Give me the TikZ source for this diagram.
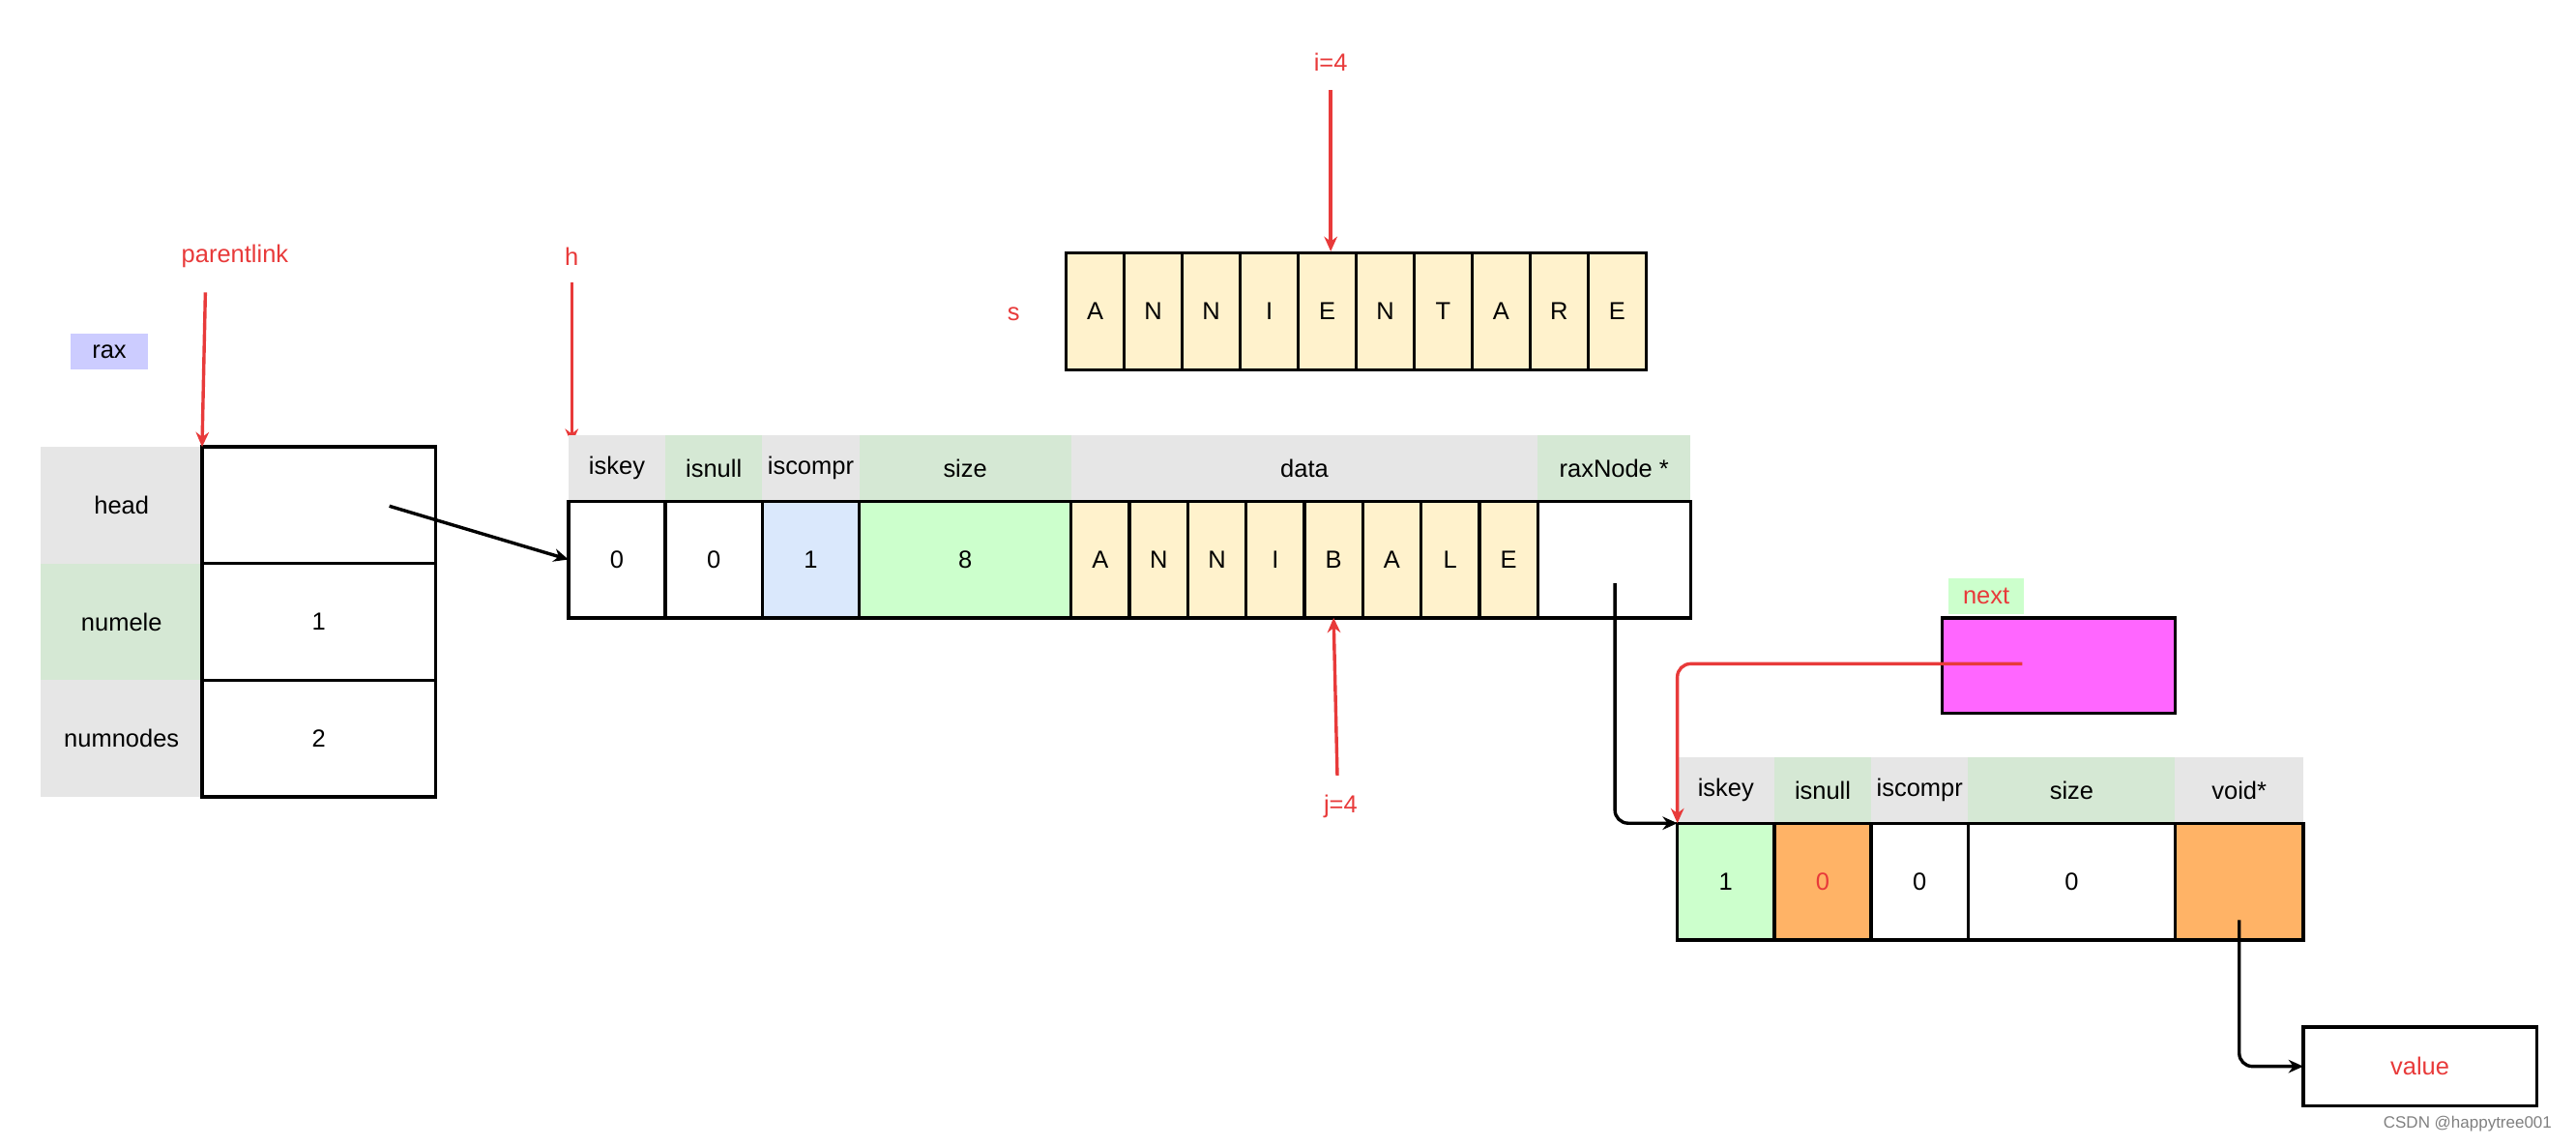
\documentclass[tikz,border=0pt]{standalone}
\usepackage{fontspec}
\setmainfont{Liberation Sans}
\usetikzlibrary{arrows.meta}
\definecolor{rd}{HTML}{E83A3A}
\definecolor{gy}{HTML}{E6E6E6}
\definecolor{gn}{HTML}{D5E8D4}
\definecolor{lg}{HTML}{CCFFCC}
\definecolor{bl}{HTML}{DAE8FC}
\definecolor{yl}{HTML}{FFF2CC}
\definecolor{og}{HTML}{FFB366}
\definecolor{mg}{HTML}{FF66FF}
\definecolor{lv}{HTML}{CCCCFF}
\begin{document}
\begin{tikzpicture}[x=1pt,y=-1pt,
  every node/.style={font=\fontsize{15}{18}\selectfont, inner sep=0pt, outer sep=0pt},
  cell/.style={draw=black, line width=2pt, minimum height=71pt},
  hdr/.style={minimum height=40pt},
  lbl/.style={text=rd},
  rarr/.style={draw=rd, line width=2pt, -{Stealth[length=9pt,width=8pt]}},
  barr/.style={draw=black, line width=2pt, -{Stealth[length=9pt,width=8pt]}, rounded corners=8pt}]
\useasboundingbox (0,0) rectangle (1568,697);
% rax
\node[fill=lv, minimum width=47pt, minimum height=22pt] (rax) at (66.5,214) {rax};
% left struct
\node[fill=gy, minimum width=98pt, minimum height=71pt] (lh) at (74,307.5) {head};
\node[fill=gn, minimum width=98pt, minimum height=71pt] (ln) at (74,378.5) {numele};
\node[fill=gy, minimum width=98pt, minimum height=71pt] (lnn) at (74,449.5) {numnodes};
\node[cell, minimum width=142pt] (vh) at (194,307.5) {};
\node[cell, minimum width=142pt] (vn) at (194,378.5) {1};
\node[cell, minimum width=142pt] (vnn) at (194,449.5) {2};
\coordinate (hs) at (237,308);
% labels
\node[lbl] (pl) at (143,156) {parentlink};
\node[lbl] (hl) at (348,156) {h};
\draw[rarr] (125,178) -- (vh.north west);
\draw[rarr] (348,172) -- (348,270);
% header row 1
\node[hdr, fill=gy, minimum width=59pt] (h1) at (375.5,285) {iskey};
\node[hdr, fill=gn, minimum width=59pt] (h2) at (434.5,285) {isnull};
\node[hdr, fill=gy, minimum width=59pt] (h3) at (493.5,285) {iscompr};
\node[hdr, fill=gn, minimum width=129pt] (h4) at (587.5,285) {size};
\node[hdr, fill=gy, minimum width=284pt] (h5) at (794,285) {data};
\node[hdr, fill=gn, minimum width=93pt] (h6) at (982.5,285) {raxNode *};
% data row
\node[cell, minimum width=59pt] (d1) at (375.5,340.5) {0};
\node[cell, minimum width=59pt] (d2) at (434.5,340.5) {0};
\node[cell, fill=bl, minimum width=59pt] (d3) at (493.5,340.5) {1};
\node[cell, fill=lg, minimum width=129pt] (d4) at (587.5,340.5) {8};
\foreach \c [count=\i] in {A,N,N,I,B,A,L,E}
  \node[cell, fill=yl, minimum width=35.5pt] (dd\i) at ({652+35.5*(\i-0.5)},340.5) {\c};
\node[cell, minimum width=93pt] (d6) at (982.5,340.5) {};
\draw[barr] (hs) -- (d1.west);
% j=4
\node[lbl] (jl) at (816,491) {j=4};
\draw[rarr] (814,472) -- (dd5.south);
% s array
\node[lbl] (sl) at (617,191) {s};
\foreach \c [count=\i] in {A,N,N,I,E,N,T,A,R,E}
  \node[cell, fill=yl, minimum width=35.3pt] (s\i) at ({649+35.3*(\i-0.5)},189.5) {\c};
\node[lbl] (il) at (810,38) {i=4};
\draw[rarr] (810,55) -- (810,153);
% next
\node[fill=lg, minimum width=46pt, minimum height=22pt, text=rd] (nl) at (1209,363) {next};
\node[draw=black, line width=2pt, fill=mg, minimum width=142pt, minimum height=58pt] (nb) at (1253,405) {};
% second struct
\node[hdr, fill=gy, minimum width=59pt] (k1) at (1050.5,481) {iskey};
\node[hdr, fill=gn, minimum width=59pt] (k2) at (1109.5,481) {isnull};
\node[hdr, fill=gy, minimum width=59pt] (k3) at (1168.5,481) {iscompr};
\node[hdr, fill=gn, minimum width=126pt] (k4) at (1261,481) {size};
\node[hdr, fill=gy, minimum width=78pt] (k5) at (1363,481) {void*};
\node[cell, fill=lg, minimum width=59pt] (e1) at (1050.5,536.5) {1};
\node[cell, fill=og, minimum width=59pt, text=rd] (e2) at (1109.5,536.5) {0};
\node[cell, minimum width=59pt] (e3) at (1168.5,536.5) {0};
\node[cell, minimum width=126pt] (e4) at (1261,536.5) {0};
\node[cell, fill=og, minimum width=78pt] (e5) at (1363,536.5) {};
% connectors
\draw[barr] (983,355) |- (e1.north west);
\draw[rarr, rounded corners=8pt] (1231,404) -| (e1.north west);
\node[draw=black, line width=2pt, minimum width=142pt, minimum height=48pt, text=rd] (val) at (1473,649) {value};
\draw[barr] (1363,560) |- (val.west);
\node[text=gray, font=\fontsize{10}{12}\selectfont] (cs) at (1502,684) {CSDN @happytree001};
\end{tikzpicture}
\end{document}
